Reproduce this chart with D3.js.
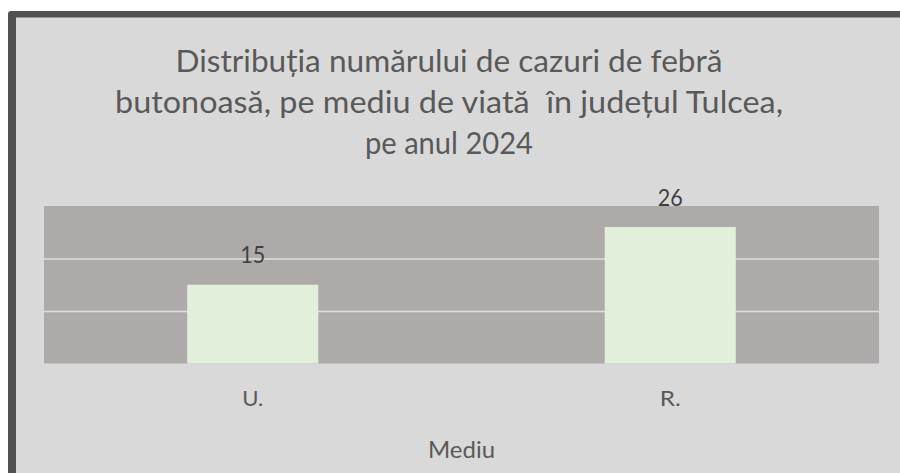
<!DOCTYPE html>
<html>
<head>
<meta charset="utf-8">
<script src="https://cdn.jsdelivr.net/npm/d3@7"></script>
<style>
  html, body { margin: 0; padding: 0; background: #ffffff; }
  svg { display: block; }
  text { font-family: Lato, "Open Sans", sans-serif; white-space: pre; }
</style>
</head>
<body>
<svg id="chart" width="900" height="473"></svg>
<script>
// ---- data ----
const categories = ["U.", "R."];
const values = [15, 26];
const yTicks = [0, 10, 20, 30];
const titleLines = [
  "Distribuția numărului de cazuri de febră",
  "butonoasă, pe mediu de viată  în județul Tulcea,",
  "pe anul 2024"
];
const axisTitle = "Mediu";

// ---- layout ----
const plot = { left: 44, right: 879, top: 206, bottom: 363.5 };

const svg = d3.select("#chart");

// frame
svg.append("rect").attr("x", 8).attr("y", 11).attr("width", 920).attr("height", 500)
  .attr("rx", 3).attr("fill", "#505050");
svg.append("rect").attr("x", 16).attr("y", 17.5).attr("width", 900).attr("height", 500)
  .attr("fill", "#d9d9d9");

// title
const titleBaselines = [72, 113, 154];
const titleWidths = [547, 668, 168];
svg.selectAll("text.title").data(titleLines).join("text")
  .attr("class", "title")
  .attr("x", 449)
  .attr("y", (d, i) => titleBaselines[i])
  .attr("text-anchor", "middle")
  .attr("font-size", 30)
  .attr("fill", "#595959")
  .attr("textLength", (d, i) => titleWidths[i])
  .attr("lengthAdjust", "spacingAndGlyphs")
  .text(d => d);

// scales
const x = d3.scaleBand().domain(categories).range([plot.left, plot.right])
  .paddingInner(0.686).paddingOuter(0.343);
const y = d3.scaleLinear().domain([0, 30]).range([plot.bottom, plot.top]);

// plot background
svg.append("rect")
  .attr("x", plot.left).attr("y", y(30))
  .attr("width", plot.right - plot.left).attr("height", y(0) - y(30))
  .attr("fill", "#aeaaa9");

// gridlines
svg.append("g")
  .attr("transform", `translate(${plot.left},0)`)
  .call(d3.axisLeft(y).tickValues(yTicks.filter(t => t > 0 && t < 30))
        .tickSize(-(plot.right - plot.left)).tickFormat(""))
  .call(g => g.select(".domain").remove())
  .call(g => g.selectAll(".tick line").attr("stroke", "#dedede").attr("stroke-width", 1.5));

// bars
svg.selectAll("rect.bar").data(values).join("rect")
  .attr("class", "bar")
  .attr("x", (d, i) => x(categories[i]))
  .attr("y", d => y(d))
  .attr("width", x.bandwidth())
  .attr("height", d => y(0) - y(d))
  .attr("fill", "#e2efda");

// value labels
svg.selectAll("text.val").data(values).join("text")
  .attr("class", "val")
  .attr("x", (d, i) => x(categories[i]) + x.bandwidth() / 2)
  .attr("y", d => y(d) - 21.5)
  .attr("text-anchor", "middle")
  .attr("font-size", 24)
  .attr("fill", "#404040")
  .attr("textLength", 25)
  .attr("lengthAdjust", "spacingAndGlyphs")
  .text(d => d);

// category axis
const xAxis = svg.append("g")
  .attr("transform", `translate(0,${plot.bottom})`)
  .call(d3.axisBottom(x).tickSize(0).tickPadding(0));
xAxis.select(".domain").remove();
xAxis.selectAll(".tick text")
  .attr("y", 42.5)
  .attr("dy", null)
  .attr("font-size", 21)
  .attr("font-family", "Lato, sans-serif")
  .attr("fill", "#595959")
  .attr("textLength", 21)
  .attr("lengthAdjust", "spacingAndGlyphs");

// axis title
svg.append("text")
  .attr("x", 461.5).attr("y", 458)
  .attr("text-anchor", "middle")
  .attr("font-size", 23)
  .attr("fill", "#595959")
  .attr("textLength", 67)
  .attr("lengthAdjust", "spacingAndGlyphs")
  .text(axisTitle);
</script>
</body>
</html>
